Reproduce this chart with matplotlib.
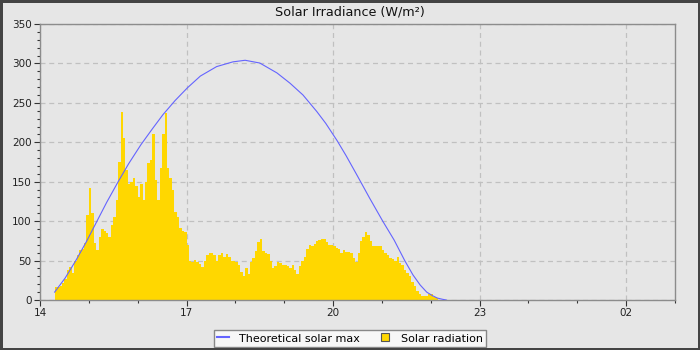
import matplotlib
matplotlib.use("Agg")
import matplotlib.pyplot as plt
import matplotlib.dates as mdates
from matplotlib.lines import Line2D
from matplotlib.patches import Rectangle
from matplotlib.ticker import MultipleLocator
import pandas as pd

# ---------------- data ----------------
day = "2024-06-01"
# measured solar radiation, 3-minute samples starting 14:18
solar_start = "14:18"
solar_step_min = 3
solar_values = [
    17, 17, 18, 22, 27, 38, 42, 34, 50, 57, 63, 65, 72, 108, 142, 110, 72, 63, 80, 90,
    88, 85, 80, 95, 105, 127, 175, 239, 205, 165, 147, 150, 155, 145, 130, 147, 127, 150, 174, 177,
    211, 152, 127, 167, 211, 237, 167, 155, 140, 112, 105, 91, 87, 86, 70, 50, 48, 51, 48, 46,
    42, 49, 57, 59, 59, 57, 50, 57, 59, 55, 58, 55, 50, 50, 48, 44, 36, 30, 40, 33,
    48, 53, 62, 73, 77, 62, 59, 58, 50, 40, 43, 48, 47, 45, 45, 43, 40, 45, 38, 33,
    43, 50, 54, 65, 70, 68, 71, 75, 76, 77, 77, 74, 70, 70, 68, 66, 65, 59, 63, 61,
    61, 59, 53, 48, 60, 75, 80, 86, 83, 75, 68, 68, 68, 68, 63, 60, 57, 53, 52, 50,
    55, 47, 44, 38, 34, 30, 23, 18, 12, 8, 5, 5, 5, 7, 7, 4, 2,
]
# theoretical clear-sky maximum
theo_times = [
    "14:18", "14:31", "14:44", "14:57", "15:10", "15:22", "15:36", "15:49", "16:04", "16:18",
    "16:31", "16:46", "17:01", "17:17", "17:37", "17:57", "18:12", "18:30", "18:51", "19:07",
    "19:23", "19:40", "19:51", "20:05", "20:16", "20:29", "20:45", "21:01", "21:15", "21:28",
    "21:38", "21:47", "21:55", "22:02", "22:08", "22:14", "22:19",
]
theo_values = [
    10, 28, 50, 74, 100, 124, 150, 173, 197, 217,
    235, 253, 269, 284, 296, 302, 304, 300.5, 288, 275,
    260, 239, 224, 202, 183, 159, 129, 100, 76, 50,
    32, 19, 10, 5.5, 2.5, 1, 0,
]
x_tick_labels = ["14", "17", "20", "23", "02"]
title = "Solar Irradiance (W/m\u00b2)"
series_names = ["Theoretical solar max", "Solar radiation"]

# ---------------- figure ----------------
bg = "#e6e6e6"
fig = plt.figure(figsize=(7, 3.5), dpi=100, facecolor=bg)
ax = fig.add_axes([40 / 700, 1 - 300 / 350, 635 / 700, 276 / 350])
ax.set_facecolor(bg)

solar_times = pd.date_range(f"{day} {solar_start}", periods=len(solar_values),
                            freq=f"{solar_step_min}min")
edges = list(solar_times) + [solar_times[-1] + pd.Timedelta(minutes=solar_step_min)]
vals = list(solar_values) + [solar_values[-1]]
ax.fill_between(edges, vals, 0, step="post", color="#FFD700", lw=0, zorder=2)

tt = pd.to_datetime([f"{day} {t}" for t in theo_times])
ax.plot(tt, theo_values, color="#6464ff", lw=0.8, zorder=3)

x0 = pd.Timestamp(f"{day} 14:00")
x1 = x0 + pd.Timedelta(hours=13)
ax.set_xlim(x0, x1)
ax.set_ylim(0, 350)

major = [x0 + pd.Timedelta(hours=3 * i) for i in range(len(x_tick_labels))]
ax.set_xticks(major)
ax.set_xticklabels(x_tick_labels)
ax.xaxis.set_minor_locator(mdates.HourLocator())
ax.yaxis.set_major_locator(MultipleLocator(50))
ax.yaxis.set_minor_locator(MultipleLocator(10))

ax.grid(True, which="major", color="#c0c0c0", linestyle=(0, (4, 3)), lw=0.9, zorder=1)
ax.set_axisbelow(True)
for s in ax.spines.values():
    s.set_color("#8c8c8c")
    s.set_linewidth(1.0)
ax.tick_params(which="major", direction="out", length=4, width=0.8, color="#333333",
               labelsize=7.5, labelcolor="#222222", pad=2)
ax.tick_params(which="minor", direction="out", length=2.5, width=0.8, color="#333333")

fig.text(0.5, 1 - 12 / 350, title, ha="center", va="center", fontsize=9.2, color="#111111")

handles = [
    Line2D([], [], color="#6464ff", lw=1.5),
    Line2D([], [], ls="", marker="s", markersize=5.5, markerfacecolor="#FFD700",
           markeredgecolor="#555555", markeredgewidth=0.8),
]
leg = fig.legend(handles, series_names, loc="lower center", ncol=2,
                 bbox_to_anchor=(0.5, 3 / 350), fontsize=8, frameon=True,
                 fancybox=False, edgecolor="#888888", facecolor="#f7f7f7",
                 handlelength=1.05, handleheight=0.9, columnspacing=1.8,
                 handletextpad=0.85, borderpad=0.3, borderaxespad=0)
leg.get_frame().set_linewidth(1.0)
leg.get_frame().set_alpha(1)

fig.patches.append(Rectangle((0, 0), 1, 1, transform=fig.transFigure, fill=False,
                             edgecolor="#444444", lw=3.6, zorder=10))

fig.savefig("out.png", dpi=100, facecolor=bg)
